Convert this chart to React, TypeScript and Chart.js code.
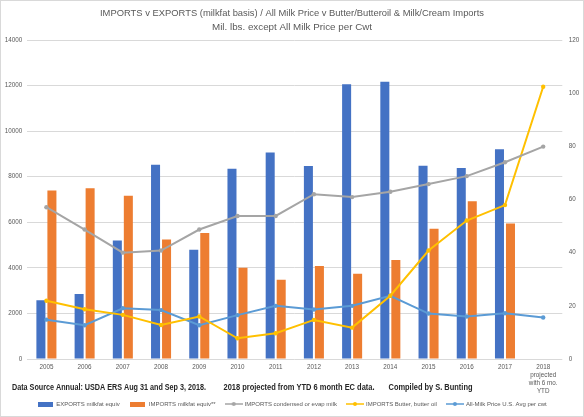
import React, { useEffect, useRef } from "react";
import { Chart, registerables } from "chart.js";

Chart.register(...registerables);

// ---------- data ----------
const categories: (string | string[])[] = [
  "2005", "2006", "2007", "2008", "2009", "2010", "2011", "2012", "2013",
  "2014", "2015", "2016", "2017", ["2018", "projected", "with 6 mo.", "YTD"],
];
const exportsMilkfat = [2580, 2850, 5200, 8530, 4800, 8350, 9060, 8470, 12060, 12170, 8480, 8380, 9200, null];
const importsMilkfat = [7400, 7490, 7160, 5240, 5530, 4000, 3480, 4080, 3740, 4340, 5720, 6920, 5950, null];
const importsCondensed = [57.1, 48.7, 40.0, 40.8, 48.7, 53.8, 53.8, 62.0, 60.9, 62.9, 65.8, 68.8, 74.0, 79.9];
const importsButter = [21.9, 18.7, 16.6, 12.8, 16.0, 7.8, 9.7, 14.7, 11.8, 23.8, 40.8, 52.1, 57.9, 102.4];
const allMilkPrice = [14.8, 12.7, 19.1, 18.4, 12.7, 16.5, 20.0, 18.6, 20.0, 23.8, 17.1, 16.0, 17.2, 15.6];

const seriesNames = [
  "EXPORTS milkfat equiv",
  "IMPORTS milkfat equiv**",
  "IMPORTS condensed or evap milk",
  "IMPORTS Butter, butter oil",
  "All-Milk Price U.S. Avg per cwt",
];
const leftAxisMax = 14000;
const leftAxisStep = 2000;
const rightAxisMax = 120;
const rightAxisStep = 20;

const titleLines = [
  "IMPORTS v EXPORTS (milkfat basis) / All Milk Price v Butter/Butteroil & Milk/Cream Imports",
  "Mil. lbs. except All Milk Price per Cwt",
];
const footnoteParts = [
  "Data Source Annual: USDA ERS Aug 31 and Sep 3, 2018.",
  "2018 projected from YTD 6 month EC data.",
  "Compiled by S. Bunting",
];

// ---------- styles ----------
const COLORS = ["#4472C4", "#ED7D31", "#A5A5A5", "#FFC000", "#5B9BD5"];
const SANS = '"Liberation Sans", Arial, sans-serif';
const TEXT_GRAY = "#595959";

function makeSwatch(color: string, kind: "bar" | "line"): HTMLCanvasElement {
  const c = document.createElement("canvas");
  if (kind === "bar") {
    c.width = 15;
    c.height = 5;
    const g = c.getContext("2d")!;
    g.fillStyle = color;
    g.fillRect(0, 0, 15, 5);
  } else {
    c.width = 18;
    c.height = 6;
    const g = c.getContext("2d")!;
    g.strokeStyle = color;
    g.lineWidth = 1.5;
    g.beginPath();
    g.moveTo(0, 3);
    g.lineTo(18, 3);
    g.stroke();
    g.fillStyle = color;
    g.beginPath();
    g.arc(9, 3, 2, 0, Math.PI * 2);
    g.fill();
  }
  return c;
}

const decorPlugin = {
  id: "decor",
  afterDraw(chart: any) {
    const ctx = chart.ctx as CanvasRenderingContext2D;
    const w = chart.width;
    const h = chart.height;
    ctx.save();
    ctx.strokeStyle = "#D9D9D9";
    ctx.lineWidth = 1;
    ctx.strokeRect(0.5, 0.5, w - 1, h - 1);

    ctx.fillStyle = TEXT_GRAY;
    ctx.textAlign = "center";
    ctx.textBaseline = "middle";
    ctx.font = `9.8px ${SANS}`;
    ctx.fillText(titleLines[0], w / 2, 13, 384);
    ctx.fillText(titleLines[1], w / 2, 27, 160);

    ctx.fillStyle = "#262626";
    ctx.textAlign = "left";
    ctx.font = `bold 8.6px ${SANS}`;
    const xs = [12, 223.5, 388.5];
    const maxW = [194, 151, 84];
    footnoteParts.forEach((t, i) => ctx.fillText(t, xs[i], 388, maxW[i]));
    ctx.restore();
  },
};

export default function App() {
  const ref = useRef<HTMLCanvasElement>(null);

  useEffect(() => {
    if (!ref.current) return;
    const swatches = [
      makeSwatch(COLORS[0], "bar"),
      makeSwatch(COLORS[1], "bar"),
      makeSwatch(COLORS[2], "line"),
      makeSwatch(COLORS[3], "line"),
      makeSwatch(COLORS[4], "line"),
    ];
    const tickFont = { family: SANS, size: 6.3, lineHeight: 1.27 };

    const lineDs = (i: number, data: number[]) => ({
      type: "line" as const,
      label: seriesNames[i],
      data,
      yAxisID: "y1",
      borderColor: COLORS[i],
      backgroundColor: COLORS[i],
      borderWidth: 2,
      pointRadius: 2.2,
      pointBorderWidth: 0,
      pointBackgroundColor: COLORS[i],
      tension: 0,
      order: 1,
    });

    const chart = new Chart(ref.current, {
      type: "bar",
      data: {
        labels: categories as any,
        datasets: [
          {
            type: "bar",
            label: seriesNames[0],
            data: exportsMilkfat,
            yAxisID: "y",
            backgroundColor: COLORS[0],
            categoryPercentage: 0.576,
            barPercentage: 0.82,
            order: 2,
          },
          {
            type: "bar",
            label: seriesNames[1],
            data: importsMilkfat,
            yAxisID: "y",
            backgroundColor: COLORS[1],
            categoryPercentage: 0.576,
            barPercentage: 0.82,
            order: 2,
          },
          lineDs(2, importsCondensed),
          lineDs(3, importsButter),
          lineDs(4, allMilkPrice),
        ] as any,
      },
      options: {
        responsive: false,
        animation: false,
        devicePixelRatio: window.devicePixelRatio || 1,
        layout: { padding: { top: 40, left: 0, right: 0, bottom: 0 } },
        plugins: {
          title: { display: false },
          tooltip: { enabled: false },
          legend: {
            position: "bottom",
            labels: {
              usePointStyle: true,
              pointStyleWidth: 16,
              padding: 10,
              color: TEXT_GRAY,
              font: { family: SANS, size: 6 },
              generateLabels: () =>
                seriesNames.map((name, i) => ({
                  text: name,
                  fillStyle: COLORS[i],
                  strokeStyle: COLORS[i],
                  lineWidth: 0,
                  pointStyle: swatches[i] as any,
                  hidden: false,
                  datasetIndex: i,
                  fontColor: TEXT_GRAY,
                })),
            },
          },
        },
        scales: {
          x: {
            grid: { display: false, drawTicks: false },
            border: { display: false },
            ticks: {
              font: tickFont,
              color: TEXT_GRAY,
              padding: 4,
              maxRotation: 0,
              autoSkip: false,
            },
            afterFit(scale: any) {
              scale.height = 32;
              // let the multi-line 2018 label extend past the axis box
              scale._computeLabelArea = () => undefined;
            },
          },
          y: {
            position: "left",
            min: 0,
            max: leftAxisMax,
            ticks: {
              stepSize: leftAxisStep,
              font: tickFont,
              color: TEXT_GRAY,
              padding: 5,
              callback: (v: any) => String(v),
            },
            grid: { color: "#D9D9D9", lineWidth: 1, drawTicks: false },
            border: { display: false },
            afterFit(scale: any) {
              scale.width = 27.3;
            },
          },
          y1: {
            position: "right",
            min: 0,
            max: rightAxisMax,
            ticks: {
              stepSize: rightAxisStep,
              font: tickFont,
              color: TEXT_GRAY,
              padding: 6.5,
              callback: (v: any) => String(v),
            },
            grid: { display: false, drawTicks: false },
            border: { display: false },
            afterFit(scale: any) {
              scale.width = 21.7;
            },
          },
        },
      } as any,
      plugins: [decorPlugin],
    });
    return () => chart.destroy();
  }, []);

  return (
    <div style={{ position: "absolute", left: 0, top: 0, width: 584, height: 417, background: "#fff" }}>
      <canvas ref={ref} width={584} height={417} style={{ width: 584, height: 417, display: "block" }} />
    </div>
  );
}
